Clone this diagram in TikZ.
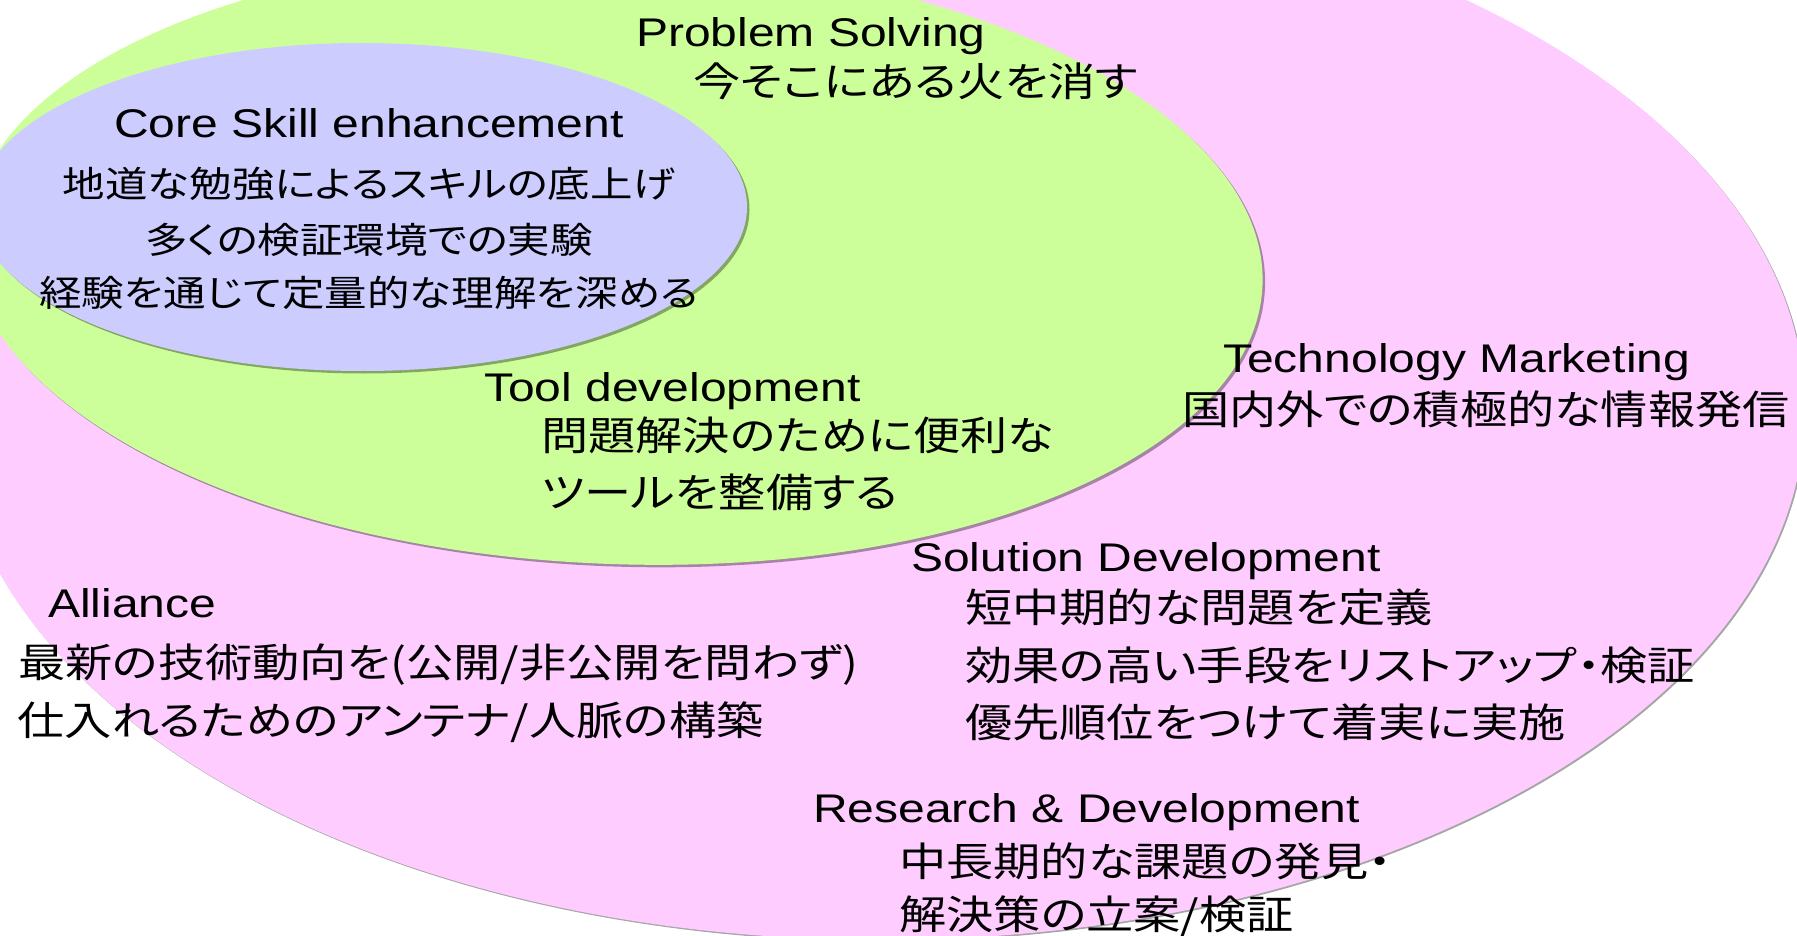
\documentclass[tikz,border=0pt]{standalone}
\usepackage{fontspec}
\setmainfont{Liberation Sans}[FakeStretch=1.2]
\newfontfamily\jpfam{Noto Sans CJK JP}[FakeStretch=1.18,RawFeature=+palt]
\definecolor{pinkfill}{HTML}{FFCCFF}
\definecolor{greenfill}{HTML}{CCFF99}
\definecolor{bluefill}{HTML}{CCCCFF}
\tikzset{
  shadowc/.style={fill=black, fill opacity=0.35},
  lat/.style={anchor=base west, inner sep=0pt, font=\fontsize{40}{48}\selectfont},
  jpn/.style={anchor=base west, inner sep=0pt, font=\jpfam\fontsize{40}{48}\selectfont},
  jpsmall/.style={anchor=base, inner sep=0pt, font=\jpfam\fontsize{36}{44}\selectfont},
}
\begin{document}
\begin{tikzpicture}[x=1pt,y=-1pt]
\useasboundingbox (0,0) rectangle (1797,936);
\fill[white] (0,0) rectangle (1797,936);
\begin{scope}
\clip (0,0) rectangle (1797,936);
% outer pink ellipse
\fill[shadowc] (881.5,411.5) ellipse [x radius=925, y radius=530];
\fill[pinkfill] (880,410) ellipse [x radius=925, y radius=530];
% green ellipse
\fill[shadowc, shift={(618.5,262.5)}, rotate=-2.24] (0,0) ellipse [x radius=647, y radius=304];
\fill[greenfill, shift={(616,260)}, rotate=-2.24] (0,0) ellipse [x radius=647, y radius=304];
% blue ellipse
\fill[shadowc] (364.5,209.5) ellipse [x radius=385, y radius=164];
\fill[bluefill] (362,207) ellipse [x radius=385, y radius=164];
\end{scope}
% texts
\node[lat] (ps) at (636,47) {Problem Solving};
\node[jpn] (ps1) at (693,97) {今そこにある火を消す};
\node[lat,anchor=base] (cs) at (369,138) {Core Skill enhancement};
\node[jpsmall] (cs1) at (369,198) {地道な勉強によるスキルの底上げ};
\node[jpsmall] (cs2) at (369,254) {多くの検証環境での実験};
\node[jpsmall] (cs3) at (369,306) {経験を通じて定量的な理解を深める};
\node[lat] (td) at (484,401) {Tool development};
\node[jpn] (td1) at (541,450) {問題解決のために便利な};
\node[jpn] (td2) at (541,507) {ツールを整備する};
\node[lat] (tm) at (1223,372) {Technology Marketing};
\node[jpn] (tm1) at (1182,424) {国内外での積極的な情報発信};
\node[lat] (sd) at (911,571) {Solution Development};
\node[jpn] (sd1) at (965,622) {短中期的な問題を定義};
\node[jpn] (sd2) at (965,680) {効果の高い手段をリストアップ・検証};
\node[jpn] (sd3) at (965,737) {優先順位をつけて着実に実施};
\node[lat] (rd) at (813,822) {Research \& Development};
\node[jpn] (rd1) at (899,876) {中長期的な課題の発見・};
\node[jpn] (rd2) at (899,929) {解決策の立案/検証};
\node[lat] (al) at (48,617) {Alliance};
\node[jpn] (al1) at (18,677) {最新の技術動向を(公開/非公開を問わず)};
\node[jpn] (al2) at (17,735) {仕入れるためのアンテナ/人脈の構築};
\end{tikzpicture}
\end{document}
